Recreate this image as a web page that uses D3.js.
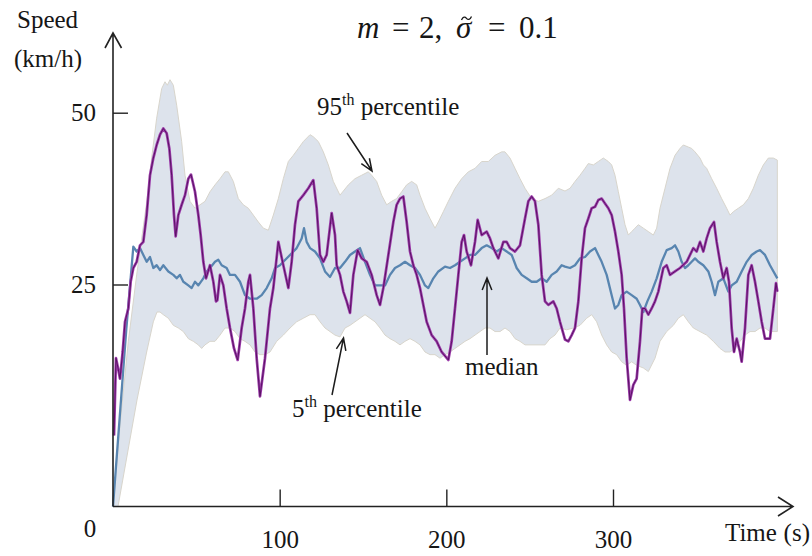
<!DOCTYPE html>
<html>
<head>
<meta charset="utf-8">
<script src="https://cdn.jsdelivr.net/npm/d3@7"></script>
<style>
  body { margin: 0; background: #fff; }
</style>
</head>
<body>
<div id="chart"></div>
<script>
// [time (s), speed (km/h)]
const sampleRun = [
  [0.6,8.0],[1.8,16.7],[3.0,15.6],[4.2,14.4],[5.8,17.4],[7.2,20.8],[9.2,22.3],[10.6,25.4],[12.2,27.4],[14.2,28.3],
  [16.2,30.7],[18.2,31.2],[20.2,35.1],[22.2,40.9],[24.2,43.4],[26.2,45.3],[28.2,46.8],[30.2,47.7],[32.2,47.0],[33.8,44.8],
  [35.2,40.9],[36.6,35.1],[37.6,32.0],[39.2,35.1],[41.2,36.6],[43.2,38.0],[45.2,40.4],[46.8,41.0],[49.2,38.5],[51.2,35.1],
  [52.6,32.2],[54.2,28.3],[55.8,25.9],[58.2,27.8],[60.2,25.4],[61.8,23.1],[62.6,23.2],[64.2,26.4],[66.2,24.9],[68.2,22.3],
  [70.2,20.1],[72.6,17.8],[74.8,16.5],[77.2,20.1],[79.2,22.3],[81.2,25.4],[82.2,26.4],[84.2,22.3],[86.2,16.7],[88.2,12.4],
  [91.2,16.7],[94.2,22.3],[96.2,24.6],[99.2,31.2],[102.2,27.8],[105.2,24.6],[107.2,28.3],[109.2,33.7],[111.2,37.1],[114.2,38.0],
  [117.2,39.0],[120.2,40.2],[122.2,36.1],[124.2,29.3],[126.2,28.3],[128.2,29.3],[131.2,35.4],[133.2,32.2],[134.2,27.8],[136.2,26.4],
  [138.2,24.2],[140.2,23.1],[142.2,21.8],[144.2,26.4],[146.8,30.0],[149.2,28.8],[152.2,28.3],[155.2,26.4],[158.2,23.8],[160.2,22.7],
  [162.2,24.6],[165.2,29.3],[168.2,34.1],[170.2,36.6],[172.2,37.5],[174.2,37.8],[176.2,34.1],[178.2,29.8],[180.2,27.8],[182.2,26.4],
  [184.2,24.6],[186.2,22.7],[188.2,20.8],[191.2,19.3],[194.2,18.6],[197.2,17.4],[201.2,16.5],[203.2,18.6],[205.2,22.3],[207.2,26.4],
  [209.2,31.2],[210.6,32.2],[212.2,29.8],[214.8,27.8],[217.2,31.2],[218.8,34.4],[221.2,32.2],[224.2,32.7],[226.2,31.7],[228.2,30.3],
  [231.2,28.8],[234.2,31.2],[236.2,31.2],[238.2,30.3],[241.2,29.8],[244.2,30.7],[247.2,34.6],[249.2,37.1],[251.2,37.8],[253.2,37.1],
  [255.2,33.7],[257.2,26.4],[259.2,23.1],[261.2,22.7],[264.2,23.1],[266.2,22.3],[268.2,20.8],[271.2,18.8],[273.2,18.6],[275.2,19.3],
  [277.2,20.1],[279.2,23.1],[281.2,28.8],[283.2,33.2],[285.2,34.6],[287.2,36.1],[289.2,36.3],[291.2,37.3],[293.2,37.5],[295.2,36.8],
  [297.2,36.1],[299.2,35.1],[301.2,32.7],[303.2,29.8],[305.2,26.4],[306.6,22.3],[308.2,16.7],[310.2,12.0],[312.2,13.7],[314.2,14.4],
  [316.2,18.6],[317.6,22.3],[319.2,22.3],[321.2,21.6],[323.2,22.3],[325.2,23.1],[327.2,24.2],[330.2,27.4],[332.2,27.8],[334.2,26.4],
  [337.2,26.9],[340.2,27.4],[344.2,28.3],[348.2,30.3],[350.2,29.8],[352.2,31.2],[354.2,29.8],[356.2,31.7],[358.2,33.2],[360.6,34.1],
  [362.2,31.2],[364.2,28.3],[366.2,25.9],[368.2,27.4],[369.6,25.4],[371.2,20.1],[372.6,17.4],[374.2,18.9],[376.2,17.4],[377.2,16.3],
  [379.2,20.1],[381.2,26.4],[383.2,27.8],[385.2,25.4],[387.2,23.1],[389.2,20.8],[391.2,18.9],[394.2,18.9],[396.2,22.3],[397.8,25.2],
  [398.6,24.2]
];

const medianSpeed = [
  [0,0],[4,10],[8,20],[12.2,30.5],[14.2,29.8],[16.2,30.3],[18.2,29.3],[20.2,28.3],[22.2,29.0],[24.2,27.4],
  [26.2,27.8],[28.2,27.1],[30.2,27.8],[33.2,26.9],[36.2,26.4],[38.2,25.9],[40.2,26.4],[42.2,25.4],[45.2,24.9],[47.2,24.6],
  [49.2,25.4],[51.2,24.9],[54.2,25.9],[56.2,26.9],[58.2,27.4],[61.2,28.3],[63.2,28.6],[65.2,27.8],[68.2,27.4],[70.2,26.4],
  [73.2,26.4],[76.2,25.4],[79.2,23.8],[82.2,23.4],[86.2,23.4],[89.2,23.8],[92.2,24.6],[95.2,25.9],[97.2,27.4],[100.2,27.8],
  [102.2,28.3],[106.2,29.3],[110.2,30.3],[113.2,31.7],[114.6,33.2],[116.2,31.2],[118.2,30.3],[121.2,29.8],[124.2,28.8],[127.2,26.9],
  [130.2,26.1],[133.2,27.4],[136.2,27.4],[139.2,28.3],[142.2,29.3],[145.2,29.8],[148.2,30.3],[151.2,28.3],[154.2,26.4],[157.2,24.9],
  [160.2,24.9],[163.2,24.9],[166.2,26.4],[169.2,27.4],[172.2,27.8],[175.2,28.3],[178.2,27.8],[181.2,27.4],[184.2,26.4],[187.2,24.9],
  [189.2,24.6],[192.2,25.9],[195.2,26.9],[199.2,27.6],[202.2,27.4],[205.2,27.8],[208.2,28.3],[211.2,28.8],[214.2,29.3],[217.2,29.3],
  [221.2,30.3],[224.2,30.7],[227.2,30.3],[230.2,29.8],[233.2,30.3],[236.2,29.8],[239.2,29.3],[242.2,27.4],[245.2,26.4],[248.2,25.9],
  [251.2,25.4],[254.2,25.4],[257.2,25.9],[260.2,25.4],[263.2,26.4],[266.2,26.9],[269.2,27.8],[271.2,27.6],[274.2,27.4],[277.2,27.8],
  [280.2,28.8],[283.2,29.0],[286.2,29.8],[289.2,30.3],[291.2,29.3],[293.2,28.3],[296.2,26.4],[299.2,23.8],[301.2,22.3],[303.2,22.7],
  [305.2,23.8],[308.2,24.2],[311.2,23.8],[314.2,23.4],[316.2,22.7],[318.2,21.9],[320.6,23.1],[323.2,24.2],[326.2,25.9],[329.2,28.3],
  [332.2,30.0],[335.2,30.3],[337.2,30.7],[339.2,29.8],[341.2,28.3],[343.2,27.4],[345.2,27.8],[347.2,28.3],[349.2,28.8],[351.2,28.3],
  [354.2,27.8],[357.2,26.9],[359.2,25.4],[361.2,23.8],[363.2,25.4],[366.2,25.9],[369.2,24.2],[371.2,24.9],[374.2,25.4],[377.2,26.9],
  [380.2,28.3],[383.2,29.3],[386.2,29.8],[388.2,30.0],[391.2,29.3],[394.2,27.8],[398.6,25.9]
];

const p95Speed = [
  [0,0],[4.2,9.2],[9.2,18.6],[14.2,26.4],[20.4,37.3],[23.2,43.4],[26.2,49.2],[29.2,53.5],[31.2,54.5],[32.6,54.0],
  [34.2,54.8],[36.2,54.0],[38.2,51.1],[41.2,45.8],[43.2,40.9],[46.2,37.1],[49.2,36.1],[52.2,36.6],[55.2,37.1],[58.2,38.5],
  [61.2,39.5],[64.2,40.4],[67.2,41.4],[69.2,41.4],[72.2,40.0],[75.2,37.5],[78.2,36.6],[81.2,36.1],[84.2,35.1],[87.2,34.1],
  [90.2,33.2],[93.2,32.9],[96.2,35.1],[99.2,37.5],[102.2,40.4],[105.2,42.9],[108.2,43.8],[111.2,44.8],[114.2,45.8],[118.2,46.8],
  [120.2,46.5],[123.2,45.8],[126.2,44.3],[129.2,42.4],[132.2,40.0],[136.2,38.0],[141.2,39.5],[145.2,40.4],[149.2,40.9],[153.2,41.4],
  [155.2,40.9],[158.2,40.0],[161.2,38.0],[164.2,36.6],[167.2,37.1],[170.2,37.5],[173.2,38.5],[176.2,39.5],[179.2,40.0],[182.2,39.5],
  [184.2,38.0],[187.2,36.1],[190.2,34.6],[193.2,33.2],[195.2,34.1],[198.2,35.6],[201.2,37.1],[205.2,39.0],[209.2,40.4],[213.2,41.4],
  [217.2,41.9],[221.2,42.9],[225.2,42.9],[229.2,43.8],[233.2,44.3],[235.2,44.3],[238.2,43.4],[241.2,41.9],[244.2,40.4],[247.2,39.0],
  [251.2,37.5],[255.2,37.1],[259.2,37.5],[263.2,38.0],[267.2,39.0],[271.2,38.6],[274.2,39.0],[277.2,40.0],[280.2,40.9],[283.2,41.9],
  [285.2,42.6],[288.2,42.4],[291.2,42.9],[294.2,43.4],[297.2,42.9],[299.2,42.4],[301.2,40.9],[303.2,38.5],[305.2,36.1],[307.2,33.7],
  [309.2,32.2],[311.2,32.7],[313.2,33.2],[315.2,33.7],[318.2,33.2],[321.2,32.7],[324.2,32.2],[326.2,33.2],[328.2,36.1],[331.2,39.0],
  [334.2,41.9],[337.2,43.8],[340.2,44.8],[342.2,45.3],[345.2,45.0],[347.2,44.8],[349.2,44.3],[352.2,43.4],[354.2,42.4],[356.2,41.9],
  [359.2,40.4],[362.2,39.0],[365.2,37.5],[368.2,36.1],[370.2,35.1],[372.2,35.6],[375.2,36.1],[378.2,36.6],[381.2,37.5],[384.2,39.0],
  [387.2,40.9],[390.2,42.4],[393.2,43.4],[396.2,43.4],[398.6,43.1]
];

const p5Speed = [
  [3.0,0],[14.4,12.0],[20.2,17.4],[24.2,20.8],[26.4,21.9],[28.2,21.9],[30.2,21.6],[33.2,21.2],[36.2,20.4],[39.2,20.1],
  [42.2,19.7],[45.2,18.9],[48.2,18.6],[51.2,18.2],[53.2,17.8],[55.2,18.2],[58.2,18.6],[61.2,18.6],[64.2,19.3],[67.2,20.1],
  [70.2,20.1],[73.2,19.7],[76.2,18.9],[79.2,18.6],[82.2,18.2],[85.2,17.4],[88.2,17.1],[91.2,17.1],[94.2,17.4],[98.2,18.6],
  [102.2,19.3],[106.2,20.1],[110.2,20.8],[114.2,21.2],[118.2,21.6],[121.2,21.6],[124.2,20.8],[127.2,20.1],[130.2,19.7],[133.2,19.3],
  [136.2,19.1],[139.2,20.1],[142.2,20.4],[145.2,20.8],[148.2,21.2],[151.2,21.6],[154.2,21.2],[157.2,20.8],[160.2,20.1],[163.2,19.3],
  [166.2,18.9],[169.2,18.6],[172.2,18.2],[175.2,18.6],[178.2,18.9],[181.2,18.6],[184.2,18.2],[187.2,17.4],[190.2,17.1],[193.2,17.1],
  [196.2,16.7],[199.2,17.1],[202.2,17.4],[205.2,17.8],[208.2,18.2],[211.2,18.6],[214.2,18.9],[217.2,19.3],[220.2,19.7],[223.2,20.1],
  [226.2,20.1],[229.2,19.7],[232.2,19.7],[235.2,20.1],[238.2,19.7],[241.2,18.9],[244.2,18.6],[247.2,18.2],[250.2,18.2],[253.2,18.2],
  [256.2,18.2],[259.2,18.2],[262.2,18.9],[265.2,19.3],[268.2,20.1],[272.2,19.9],[276.2,20.1],[280.2,20.4],[284.2,21.2],[287.2,21.6],
  [290.2,20.8],[293.2,19.3],[296.2,18.2],[299.2,17.4],[302.2,17.1],[305.2,16.3],[308.2,15.9],[311.2,16.3],[314.2,15.9],[318.2,15.6],
  [321.2,15.2],[325.2,16.7],[328.2,18.6],[332.2,19.7],[336.2,20.4],[339.2,21.2],[342.2,21.6],[345.2,20.8],[348.2,20.1],[352.2,19.7],
  [356.2,19.3],[360.2,18.6],[364.2,17.8],[367.2,17.4],[370.2,17.4],[373.2,17.8],[376.2,18.6],[379.2,19.3],[382.2,19.7],[385.2,19.7],
  [388.2,20.1],[391.2,20.1],[394.2,19.7],[398.6,19.7]
];

const xTicks = [100, 200, 300];
const yTicks = [25, 50];

const svgWidth = 812;
const svgHeight = 556;
const serif = "'Liberation Serif', 'Times New Roman', 'DejaVu Serif', serif";

let svg = d3.select("#chart")
  .append("svg")
  .attr("width", svgWidth)
  .attr("height", svgHeight);

// the figure's vertical axis is not evenly spaced, so piecewise scale
let x = d3.scaleLinear().domain([0, 300]).range([113, 613]);
let y = d3.scaleLinear().domain([0, 25, 50]).range([506.5, 284.5, 112.7]);

let line = d3.line()
  .x(d => x(d[0]))
  .y(d => y(d[1]));

// percentile band: 95th forward, 5th back
let band = p95Speed.concat(p5Speed.slice().reverse());
svg.append("path")
  .attr("d", line(band) + "Z")
  .attr("fill", "#dde3ec")
  .attr("stroke", "#d8d5cc")
  .attr("stroke-width", 1);

// median
svg.append("path")
  .attr("d", line(medianSpeed))
  .attr("fill", "none")
  .attr("stroke", "#5885b0")
  .attr("stroke-width", 2.3)
  .attr("stroke-linejoin", "round");

// one sample run (purple edge, dark core)
svg.append("path")
  .attr("d", line(sampleRun))
  .attr("fill", "none")
  .attr("stroke", "#9c3caa")
  .attr("stroke-width", 2.7)
  .attr("stroke-linejoin", "round");
svg.append("path")
  .attr("d", line(sampleRun))
  .attr("fill", "none")
  .attr("stroke", "#5a1265")
  .attr("stroke-width", 1)
  .attr("stroke-linejoin", "round");

// axes
let xAxis = svg.append("g")
  .attr("transform", `translate(0,${y(0)})`)
  .call(d3.axisBottom(x).tickValues(xTicks).tickSizeInner(-17).tickSizeOuter(0).tickPadding(24));
let yAxis = svg.append("g")
  .attr("transform", `translate(${x(0)},0)`)
  .call(d3.axisLeft(y).tickValues(yTicks).tickSizeInner(-15).tickSizeOuter(0).tickPadding(17));

[xAxis, yAxis].forEach(g => {
  g.attr("font-family", serif).attr("font-size", 25);
  g.select(".domain").remove();
  g.selectAll(".tick line").attr("stroke", "#222").attr("stroke-width", 1.4);
  g.selectAll(".tick text").attr("fill", "#161616");
});

// axis lines with open arrow heads
let axisColor = "#222";
svg.append("path")
  .attr("d", `M${x(0)},${y(0)}H793M778,497L793,${y(0)}L778,516`)
  .attr("fill", "none").attr("stroke", axisColor).attr("stroke-width", 1.6);
svg.append("path")
  .attr("d", `M${x(0)},${y(0)}V33M105,48L${x(0)},33L121.5,48`)
  .attr("fill", "none").attr("stroke", axisColor).attr("stroke-width", 1.6);

function label(px, py, str, anchor) {
  return svg.append("text")
    .attr("x", px).attr("y", py)
    .attr("text-anchor", anchor || "start")
    .attr("font-family", serif)
    .attr("font-size", 25)
    .attr("fill", "#161616")
    .text(str);
}

// axis labels
label(17, 28, "Speed");
label(14, 67, "(km/h)");
label(90, 537, "0", "middle");
label(725, 541, "Time");
label(810, 541, "(s)", "end");

// title, math-style spacing
let title = svg.append("text").attr("y", 38)
  .attr("font-family", serif).attr("font-size", 31).attr("fill", "#161616");
title.append("tspan").attr("x", 357).attr("font-style", "italic").text("m");
title.append("tspan").attr("x", 392).text("=");
title.append("tspan").attr("x", 419).text("2,");
title.append("tspan").attr("x", 456).attr("font-style", "italic").text("σ");
title.append("tspan").attr("x", 488).text("=");
title.append("tspan").attr("x", 519).text("0.1");
// tilde accent over sigma
svg.append("path")
  .attr("d", "M461.5,20C463,16.5 465,16.5 466.5,18.3S470,20 471.5,16.5")
  .attr("fill", "none").attr("stroke", "#161616").attr("stroke-width", 1.3);

// annotations
function percentileLabel(px, py, num) {
  let t = label(px, py, num);
  t.append("tspan").attr("dy", -10).attr("font-size", 16).text("th");
  t.append("tspan").attr("dy", 10).text(" percentile");
}
percentileLabel(317, 115, "95");
percentileLabel(292, 417, "5");
label(465, 375, "median");

function pointer(x1, y1, x2, y2) {
  let a = Math.atan2(y2 - y1, x2 - x1);
  let len = 13, spread = 0.38;
  let w1 = [x2 - len * Math.cos(a - spread), y2 - len * Math.sin(a - spread)];
  let w2 = [x2 - len * Math.cos(a + spread), y2 - len * Math.sin(a + spread)];
  svg.append("path")
    .attr("d", `M${x1},${y1}L${x2},${y2}M${w1}L${x2},${y2}L${w2}`)
    .attr("fill", "none").attr("stroke", "#1c1c1c").attr("stroke-width", 1.5);
}
pointer(347, 133, 372, 171);
pointer(332, 395, 343.5, 338);
pointer(487, 355, 487, 278);
</script>
</body>
</html>
